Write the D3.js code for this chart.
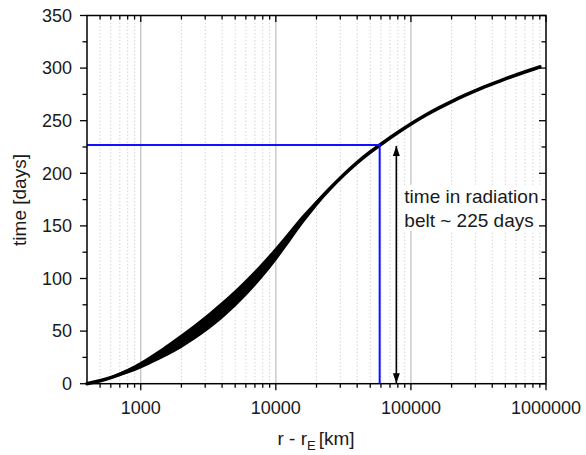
<!DOCTYPE html>
<html><head><meta charset="utf-8">
<script src="https://cdn.jsdelivr.net/npm/d3@7"></script>
<style>body{margin:0;background:#fff}svg{display:block;font-family:"Liberation Sans",Arial,sans-serif}</style>
</head><body><svg id="c" width="586" height="455"></svg>
<script>
// distance above Earth surface (km)
const radius = [400,500,630,800,1000,1300,1600,2000,2500,3200,4000,5000,6300,8000,10000,12600,16000,20000,25000,32000,40000,50000,63000,80000,100000,130000,160000,200000,250000,320000,400000,500000,630000,800000,900000];
// central time (days)
const timeMid = [0,2.7,6.7,11.9,17.7,25.7,32.5,40.5,49.1,59.5,69.8,81.1,93.9,108.5,123.2,139.7,156.9,171.5,185.1,198.8,210.1,220.2,229.6,238.8,246.9,255.6,261.9,268.2,274,280,285,289.8,294.4,298.9,301.2];
// half spread of the bundle of curves (days)
const timeSpread = [0,0.6,1.3,2.2,3.2,4.4,5.5,6.5,7.2,7.7,8,8,7.8,7.3,6.5,5.4,4.2,3,2,1.2,0.6,0.2,0,0,0,0,0,0,0,0,0,0,0,0,0];
const xTicks = [1000,10000,100000,1000000];
const yTicks = [0,50,100,150,200,250,300,350];
const beltEdge = {r:58700, t:227};
const arrowR = 78000;
const noteLines = ["time in radiation","belt ~ 225 days"];

const svg = d3.select("#c");
const L=87,R=546,T=15.5,B=383.7;
const x = d3.scaleLog().domain([400,1e6]).range([L,R]);
const y = d3.scaleLinear().domain([0,350]).range([B,T]);

const minor=[];
for(let e=2;e<6;e++)for(let k=2;k<10;k++){const v=k*Math.pow(10,e);if(v>=400&&v<=1e6)minor.push(v);}
const isMajor=v=>xTicks.includes(v);

// grid
svg.append("g").selectAll("line").data(minor.filter(v=>v>400)).join("line")
 .attr("x1",d=>x(d)).attr("x2",d=>x(d)).attr("y1",T).attr("y2",B)
 .attr("stroke","#d4d4d4").attr("stroke-width",1).attr("stroke-dasharray","1.5,2");
svg.append("g").selectAll("line").data(xTicks.filter(v=>v<1e6)).join("line")
 .attr("x1",d=>x(d)).attr("x2",d=>x(d)).attr("y1",T).attr("y2",B)
 .attr("stroke","#bdbdbd").attr("stroke-width",1.2);

// annotation background
const ax = x(arrowR);
svg.append("rect").attr("x",ax+6).attr("y",y(190)+1).attr("width",140).attr("height",46).attr("fill","#fff");

// data band
const pts = radius.map((r,i)=>({r,m:timeMid[i],s:timeSpread[i]}));
const cv = d3.curveCatmullRom.alpha(0.5);
svg.append("path").datum(pts)
 .attr("d",d3.area().x(d=>x(d.r)).y0(d=>y(d.m-d.s)).y1(d=>y(d.m+d.s)).curve(cv))
 .attr("fill","#000");
svg.append("path").datum(pts)
 .attr("d",d3.line().x(d=>x(d.r)).y(d=>y(d.m)).curve(cv))
 .attr("fill","none").attr("stroke","#000").attr("stroke-width",3.6).attr("stroke-linecap","round");

// blue lines
svg.append("path")
 .attr("d",`M${L},${y(beltEdge.t)}H${x(beltEdge.r)}V${B}`)
 .attr("fill","none").attr("stroke","#1010ff").attr("stroke-width",2);

// double arrow
const defs=svg.append("defs");
defs.append("marker").attr("id","ah").attr("viewBox","0 0 10 10").attr("refX",10).attr("refY",5)
 .attr("markerWidth",10).attr("markerHeight",10).attr("markerUnits","userSpaceOnUse").attr("orient","auto-start-reverse")
 .append("path").attr("d","M0,1.5L10,5L0,8.5Z").attr("fill","#000");
svg.append("line").attr("x1",ax).attr("x2",ax).attr("y1",y(beltEdge.t)+1).attr("y2",B-0.5)
 .attr("stroke","#000").attr("stroke-width",1.6)
 .attr("marker-start","url(#ah)").attr("marker-end","url(#ah)");

svg.append("g").selectAll("text").data(noteLines).join("text")
 .attr("x",ax+8).attr("y",(d,i)=>202.5+i*24).attr("font-size",19).attr("fill","#1a1a1a").text(d=>d);

// frame
svg.append("rect").attr("x",L).attr("y",T).attr("width",R-L).attr("height",B-T)
 .attr("fill","none").attr("stroke","#000").attr("stroke-width",1.5);

// ticks
const allX = minor.concat(xTicks).filter(v=>v>400);
const gt=svg.append("g").attr("stroke","#000").attr("stroke-width",1.3);
allX.forEach(v=>{
  const len=isMajor(v)?6.5:4;
  gt.append("line").attr("x1",x(v)).attr("x2",x(v)).attr("y1",B).attr("y2",B+len);
  gt.append("line").attr("x1",x(v)).attr("x2",x(v)).attr("y1",T).attr("y2",T+len);
});
d3.range(0,351,25).forEach(v=>{
  const len=v%50===0?7:4.5;
  gt.append("line").attr("x1",L-len).attr("x2",L).attr("y1",y(v)).attr("y2",y(v));
  gt.append("line").attr("x1",R).attr("x2",R-len).attr("y1",y(v)).attr("y2",y(v));
});

// tick labels
svg.append("g").selectAll("text").data(xTicks).join("text")
 .attr("x",d=>x(d)).attr("y",414).attr("text-anchor","middle").attr("font-size",18).attr("fill","#1a1a1a").text(d=>d);
svg.append("g").selectAll("text").data(yTicks).join("text")
 .attr("x",72).attr("y",d=>y(d)+6.3).attr("text-anchor","end").attr("font-size",18).attr("fill","#1a1a1a").text(d=>d);

// axis titles
svg.append("text").attr("transform","translate(26,200) rotate(-90)").attr("text-anchor","middle")
 .attr("font-size",19).attr("fill","#1a1a1a").text("time [days]");
const xt=svg.append("text").attr("x",316).attr("y",445).attr("text-anchor","middle").attr("font-size",19).attr("fill","#1a1a1a");
xt.append("tspan").text("r - r");
xt.append("tspan").attr("font-size",13).attr("dy",5).text("E");
xt.append("tspan").attr("dy",-5).attr("dx",3).text("[km]");
</script></body></html>
